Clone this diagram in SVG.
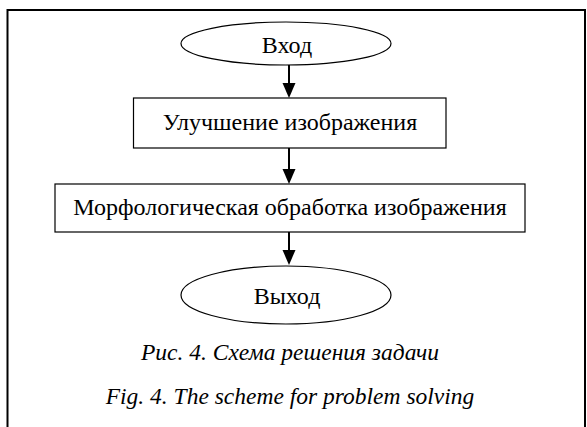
<svg xmlns="http://www.w3.org/2000/svg" width="587" height="427" viewBox="0 0 587 427">
<defs>
<style>
.shape{fill:#fff;stroke:#000;stroke-width:1.2}
.lbl{font-family:'Liberation Serif','Times New Roman',serif;font-size:24px;fill:#000;text-anchor:middle}
.cap{font-family:'Liberation Serif','Times New Roman',serif;font-size:23.5px;font-style:italic;fill:#000;text-anchor:middle}
.conn{stroke:#000;stroke-width:2;fill:none}
.head{fill:#000;stroke:none}
</style>
</defs>
<rect x="0" y="0" width="587" height="427" fill="#fff"/>
<rect id="frame" x="7.5" y="10" width="577.5" height="430" fill="none" stroke="#000" stroke-width="2"/>
<g id="connectors">
<line class="conn" x1="289" y1="65" x2="289" y2="84"/>
<path class="head" d="M282.5,83 L295.5,83 L289,98 Z"/>
<line class="conn" x1="289" y1="148" x2="289" y2="170"/>
<path class="head" d="M282.5,169 L295.5,169 L289,184 Z"/>
<line class="conn" x1="289" y1="232" x2="289" y2="251"/>
<path class="head" d="M282.5,250 L295.5,250 L289,265 Z"/>
</g>
<g id="node-input">
<ellipse class="shape" cx="286" cy="43.5" rx="105" ry="21.5"/>
<text class="lbl" x="287" y="53">Вход</text>
</g>
<g id="node-enhance">
<rect class="shape" x="133.5" y="98" width="312.5" height="50"/>
<text class="lbl" x="290" y="130">Улучшение изображения</text>
</g>
<g id="node-morph">
<rect class="shape" x="55" y="184" width="470" height="48"/>
<text class="lbl" x="290" y="215">Морфологическая обработка изображения</text>
</g>
<g id="node-output">
<ellipse class="shape" cx="286" cy="295" rx="105" ry="29"/>
<text class="lbl" x="287" y="304">Выход</text>
</g>
<g id="captions">
<text class="cap" x="290" y="360">Рис. 4. Схема решения задачи</text>
<text class="cap" x="290" y="404">Fig. 4. The scheme for problem solving</text>
</g>
</svg>
